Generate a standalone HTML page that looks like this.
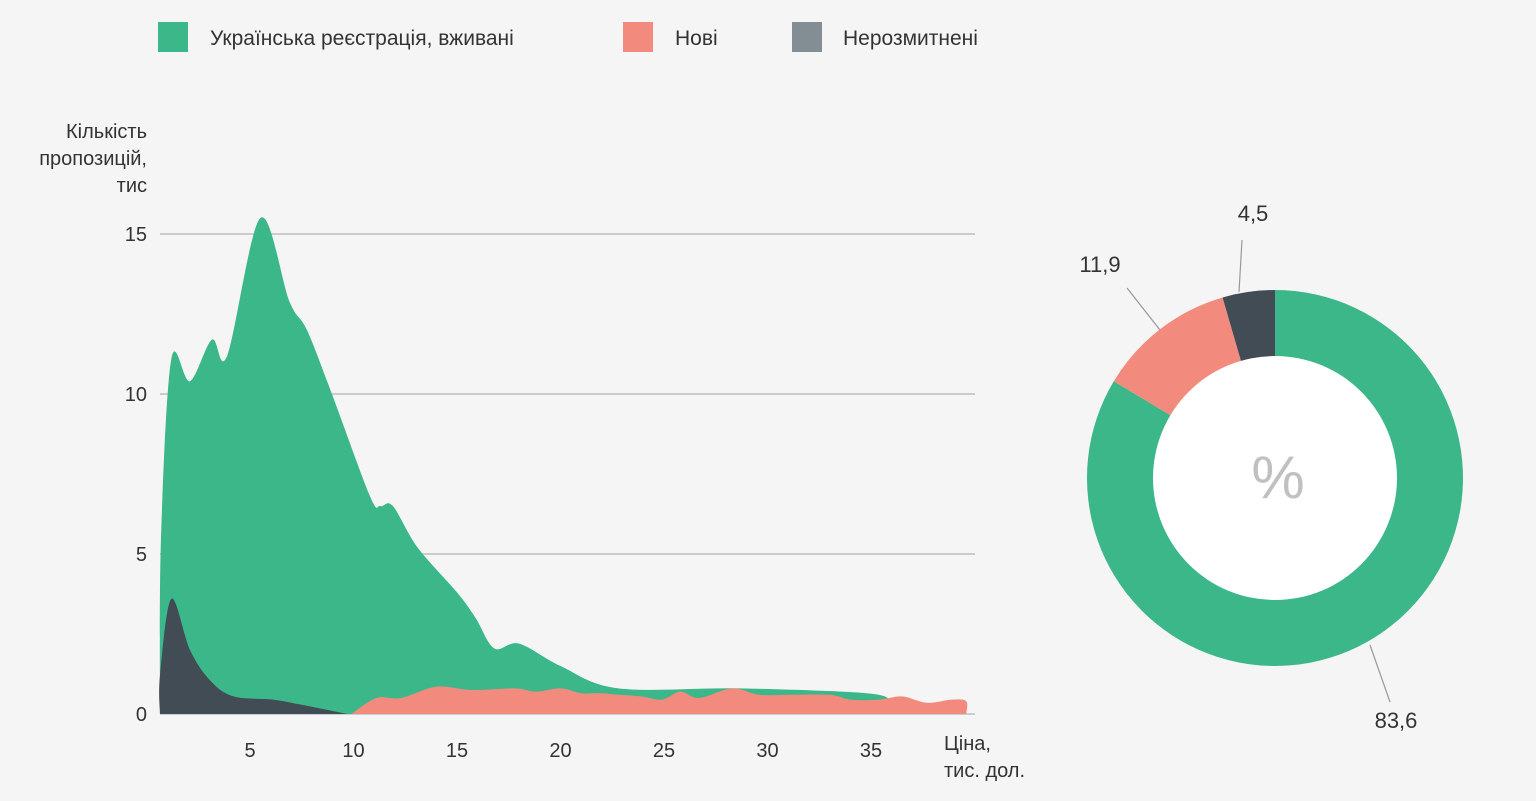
<!DOCTYPE html>
<html><head><meta charset="utf-8">
<style>
body{margin:0;background:#f5f5f5;font-family:"Liberation Sans","DejaVu Sans",sans-serif;}
svg{display:block}
text{font-family:"Liberation Sans","DejaVu Sans",sans-serif;fill:#333}
</style></head>
<body>
<svg id="c" width="1536" height="801" viewBox="0 0 1536 801">
<rect width="1536" height="801" fill="#f5f5f5"/>
<g>
 <rect x="158" y="22" width="30" height="30" fill="#3bb78a"/>
 <text x="210" y="45" font-size="21">Українська реєстрація, вживані</text>
 <rect x="623" y="22" width="30" height="30" fill="#f28b7e"/>
 <text x="675" y="45" font-size="21">Нові</text>
 <rect x="792" y="22" width="30" height="30" fill="#838d94"/>
 <text x="843" y="45" font-size="21">Нерозмитнені</text>
</g>
<g font-size="20" text-anchor="end">
 <text x="147" y="138">Кількість</text>
 <text x="147" y="165">пропозицій,</text>
 <text x="147" y="192">тис</text>
</g>
<g id="grid"></g>
<g id="areas"></g>
<g id="xt"></g>
<g font-size="20">
 <text x="944" y="750">Ціна,</text>
 <text x="944" y="777">тис. дол.</text>
</g>
<g id="donut"></g>
</svg>
<script>
const NS="http://www.w3.org/2000/svg";
const yTicks=[0,5,10,15];
const xTicks=[5,10,15,20,25,30,35];
const usedX=[0.65,0.7,1.2,2.1,3.16,3.9,5.5,6.9,7.75,8.9,10.8,11.3,11.9,13.1,15.0,15.9,16.8,18.0,20.0,22.8,28.7,34.8,36.0];
const usedY=[0,5.5,11.1,10.4,11.7,11.2,15.5,12.9,12.0,10.1,6.8,6.5,6.5,5.2,3.8,3.0,2.05,2.2,1.5,0.8,0.8,0.65,0.4];
const newX=[9.9,11.1,12.3,14.0,15.7,17.8,18.8,20.0,21,22,22.8,23.9,24.9,25.8,26.7,28.3,29.6,31,33,34,35.4,36.5,37.7,38.9,39.6,39.6];
const newY=[0,0.5,0.5,0.85,0.75,0.8,0.7,0.8,0.65,0.65,0.6,0.55,0.45,0.7,0.5,0.8,0.6,0.6,0.6,0.45,0.45,0.55,0.35,0.45,0.4,0];
const unX=[0.65,0.65,1.2,2.1,3.07,4.2,6.1,7.4,9.7];
const unY=[0,1.2,3.6,2.0,1.05,0.55,0.45,0.3,0];
const shares=[83.6,11.9,4.5];
const shareLabels=["83,6","11,9","4,5"];
const shareColors=["#3bb78a","#f28b7e","#414c54"];
const sx=v=>146.5+20.7*v, sy=v=>714-32*v;
function mk(t,a,p){const e=document.createElementNS(NS,t);for(const k in a)e.setAttribute(k,a[k]);(p||document.getElementById('c')).appendChild(e);return e;}
const grid=document.getElementById('grid');
yTicks.forEach(t=>{
 if(t>0){const l=mk('line',{x1:160,x2:975,y1:sy(t),y2:sy(t),stroke:'#b5b5b5','stroke-width':1.3},grid);
 
 }
 const tx=mk('text',{x:147,y:sy(t)+7,'font-size':20,'text-anchor':'end'},grid);tx.textContent=t;
 
 
});
const bl=mk('line',{x1:160,x2:975,y1:714,y2:714,stroke:'#9aa',"stroke-width":1},grid);


const xt=document.getElementById('xt');
xTicks.forEach(t=>{const tx=mk('text',{x:sx(t),y:757,'font-size':20,'text-anchor':'middle'},xt);tx.textContent=t;
 
 });
function path(X,Y){
 const P=X.map((x,i)=>[sx(x),sy(Y[i])]);
 let d='M'+sx(X[0])+',714 L'+P[0][0]+','+P[0][1];
 for(let i=0;i<P.length-1;i++){
  const p0=P[Math.max(0,i-1)],p1=P[i],p2=P[i+1],p3=P[Math.min(P.length-1,i+2)];
  let c1y=p1[1]+(p2[1]-p0[1])/6,c2y=p2[1]-(p3[1]-p1[1])/6;
  c1y=Math.min(c1y,714);c2y=Math.min(c2y,714);
  d+=` C${p1[0]+(p2[0]-p0[0])/6},${c1y} ${p2[0]-(p3[0]-p1[0])/6},${c2y} ${p2[0]},${p2[1]}`;
 }
 d+=' L'+sx(X[X.length-1])+',714 Z';return d;
}
const ar=document.getElementById('areas');
const a1=mk('path',{d:path(usedX,usedY),fill:'#3bb78a'},ar);


const a2=mk('path',{d:path(newX,newY),fill:'#f28b7e'},ar);


const a3=mk('path',{d:path(unX,unY),fill:'#414c54'},ar);


// donut
const dn=document.getElementById('donut');
const cx=1275,cy=478,R=188,r=122;
const tot=shares.reduce((a,b)=>a+b,0);
let acc=0;
const pt=(ang,rad)=>[cx+rad*Math.sin(ang),cy-rad*Math.cos(ang)];
const labelPos=[[1396,728,1370,645,1390,702],[1100,272,1160,330,1127,288],[1253,221,1239,292,1242,240]];
shares.forEach((s,i)=>{
 const a0=acc/tot*2*Math.PI;acc+=s;const a1=acc/tot*2*Math.PI;
 const [x0,y0]=pt(a0,R),[x1,y1]=pt(a1,R);const lg=(a1-a0)>Math.PI?1:0;
 const sl=mk('path',{d:`M${cx},${cy} L${x0},${y0} A${R},${R} 0 ${lg} 1 ${x1},${y1} Z`,fill:shareColors[i]},dn);
 
 
 const L=labelPos[i];
 const ln=mk('line',{x1:L[2],y1:L[3],x2:L[4],y2:L[5],stroke:'#999','stroke-width':1.2},dn);
 
 
 const tx=mk('text',{x:L[0],y:L[1],'font-size':22,'text-anchor':'middle'},dn);tx.textContent=shareLabels[i];
 
 
});
const hole=mk('circle',{cx:cx,cy:cy,r:r,fill:'#fff'},dn);


const pc=mk('text',{x:cx+3,y:cy+20,'font-size':60,'text-anchor':'middle',fill:'#c0c0c0',style:'fill:#c0c0c0'},dn);pc.textContent='%';


</script>
</body></html>
